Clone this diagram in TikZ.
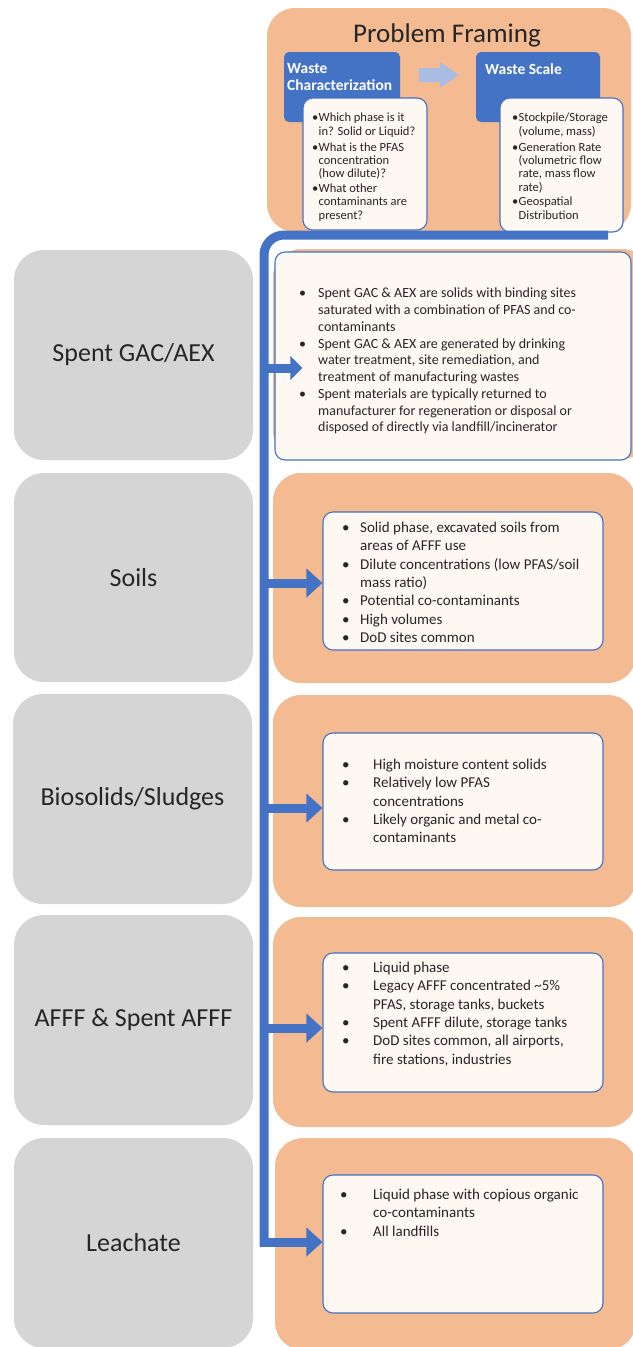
\documentclass[tikz,border=0pt]{standalone}
\usepackage{fontspec}
\setmainfont{Carlito}
\usetikzlibrary{arrows.meta}
\definecolor{peach}{HTML}{F4BA92}
\definecolor{greyb}{HTML}{D5D5D5}
\definecolor{bblue}{HTML}{4472C4}
\definecolor{cream}{HTML}{FDF8F2}
\definecolor{lblue}{HTML}{A9BDE2}
\definecolor{ink}{HTML}{262626}
\newcommand\bul[1]{\makebox[#1][l]{•}}
\newcommand\hin[1]{\hspace*{#1}}
\begin{document}
\begin{tikzpicture}[x=1pt,y=-1pt,
  orangebox/.style={fill=peach, rounded corners=28pt, draw=none, inner sep=0},
  greybox/.style={fill=greyb, rounded corners=30pt, inner sep=0, font=\fontsize{26}{31}\selectfont, text=ink},
  creambox/.style={fill=cream, draw=bblue, line width=1.1pt, rounded corners=10pt, inner sep=0},
  titlebox/.style={fill=bblue, rounded corners=5pt, inner sep=0},
  bodytext/.style={inner sep=0, anchor=north west, align=left, text=ink},
  bigtext/.style={bodytext, font=\fontsize{15}{18.3}\selectfont},
  smalltext/.style={bodytext, font=\fontsize{12.5}{13.4}\selectfont},
  conn/.style={draw=bblue, line width=9pt},
  arr/.style={conn, -{Triangle[width=28pt,length=16pt]}}
]
\useasboundingbox (0,0) rectangle (632,1347);
\fill[white] (0,0) rectangle (632,1347);

% ---------- Problem framing ----------
\node[orangebox, minimum width=364pt, minimum height=224pt] (pf) at (449,120) {};
\node[inner sep=0, anchor=base, font=\fontsize{27}{32}\selectfont, text=ink] (pft) at (447,42) {Problem Framing};
\node[titlebox, minimum width=116pt, minimum height=70pt] (wc) at (342,87) {};
\node[titlebox, minimum width=124pt, minimum height=70pt] (ws) at (538,87) {};
\node[bodytext, text=white, font=\bfseries\fontsize{15.5}{17}\selectfont] (wct) at (287,63) {Waste\\Characterization};
\node[bodytext, text=white, font=\bfseries\fontsize{15.5}{17}\selectfont] (wst) at (485,63) {Waste Scale};
\fill[lblue] (419,68) -- (440,68) -- (440,62) -- (459,75) -- (440,88) -- (440,82) -- (419,82) -- cycle;
\node[creambox, minimum width=124pt, minimum height=132pt] (wcw) at (365,164) {};
\node[creambox, minimum width=123pt, minimum height=134pt] (wsw) at (561.5,165) {};
\node[smalltext] (wcx) at (312,113) {\bul{6.5pt}Which phase is it\\\hin{6.5pt}in? Solid or Liquid?\\[2.5pt]
\bul{6.5pt}What is the PFAS\\\hin{6.5pt}concentration\\\hin{6.5pt}(how dilute)?\\[1pt]
\bul{6.5pt}What other\\\hin{6.5pt}contaminants are\\\hin{6.5pt}present?};
\node[smalltext] (wsx) at (512,113) {\bul{6.5pt}Stockpile/Storage\\\hin{6.5pt}(volume, mass)\\[2.5pt]
\bul{6.5pt}Generation Rate\\\hin{6.5pt}(volumetric flow\\\hin{6.5pt}rate, mass flow\\\hin{6.5pt}rate)\\[1pt]
\bul{6.5pt}Geospatial\\\hin{6.5pt}Distribution};

% ---------- right column ----------
\node[orangebox, minimum width=377pt, minimum height=210pt] (o1) at (461.5,354) {};
\node[creambox, minimum width=356pt, minimum height=208pt] (w1) at (453,356) {};
\node[orangebox, minimum width=363pt, minimum height=210pt] (o2) at (454.5,578) {};
\node[creambox, minimum width=280pt, minimum height=138pt] (w2) at (463,581) {};
\node[orangebox, minimum width=363pt, minimum height=212pt] (o3) at (454.5,801) {};
\node[creambox, minimum width=280pt, minimum height=137pt] (w3) at (463,801.5) {};
\node[orangebox, minimum width=363pt, minimum height=210pt] (o4) at (454.5,1022) {};
\node[creambox, minimum width=280pt, minimum height=139pt] (w4) at (463,1022.5) {};
\node[orangebox, minimum width=361pt, minimum height=212pt] (o5) at (455.5,1244) {};
\node[creambox, minimum width=280pt, minimum height=138pt] (w5) at (463,1244) {};

\node[bodytext, font=\fontsize{14}{16.75}\selectfont] (x1) at (299,288) {%
\bul{19pt}Spent GAC \& AEX are solids with binding sites\\\hin{19pt}saturated with a combination of PFAS and co-\\\hin{19pt}contaminants\\
\bul{19pt}Spent GAC \& AEX are generated by drinking\\\hin{19pt}water treatment, site remediation, and\\\hin{19pt}treatment of manufacturing wastes\\
\bul{19pt}Spent materials are typically returned to\\\hin{19pt}manufacturer for regeneration or disposal or\\\hin{19pt}disposed of directly via landfill/incinerator};
\node[bigtext] (x2) at (342,522) {%
\bul{18pt}Solid phase, excavated soils from\\\hin{18pt}areas of AFFF use\\
\bul{18pt}Dilute concentrations (low PFAS/soil\\\hin{18pt}mass ratio)\\
\bul{18pt}Potential co-contaminants\\
\bul{18pt}High volumes\\
\bul{18pt}DoD sites common};
\node[bigtext] (x3) at (342,759) {%
\bul{31pt}High moisture content solids\\
\bul{31pt}Relatively low PFAS\\\hin{31pt}concentrations\\
\bul{31pt}Likely organic and metal co-\\\hin{31pt}contaminants};
\node[bigtext] (x4) at (342,962) {%
\bul{31pt}Liquid phase\\
\bul{31pt}Legacy AFFF concentrated \textasciitilde 5\%\\\hin{31pt}PFAS, storage tanks, buckets\\
\bul{31pt}Spent AFFF dilute, storage tanks\\
\bul{31pt}DoD sites common, all airports,\\\hin{31pt}fire stations, industries};
\node[bigtext] (x5) at (340,1189) {%
\bul{33pt}Liquid phase with copious organic\\\hin{33pt}co-contaminants\\
\bul{33pt}All landfills};

% ---------- left column ----------
\node[greybox, minimum width=239pt, minimum height=210pt] (g1) at (133.5,355) {Spent GAC/AEX};
\node[greybox, minimum width=239pt, minimum height=209pt] (g2) at (133.5,577.5) {Soils};
\node[greybox, minimum width=239pt, minimum height=210pt] (g3) at (132.5,799) {Biosolids/Sludges};
\node[greybox, minimum width=239pt, minimum height=210pt] (g4) at (133.5,1020) {AFFF \& Spent AFFF};
\node[greybox, minimum width=239pt, minimum height=210pt] (g5) at (133.5,1243) {Leachate};

% ---------- connector ----------
\coordinate (cs) at (608,235);
\coordinate (cc) at (264,235);
\coordinate (ce) at (264,1246.5);
\coordinate (cb) at (259.5,1242);
\coordinate (t1) at (264,368);
\coordinate (t2) at (264,583);
\coordinate (t3) at (264,808);
\coordinate (t4) at (264,1028);
\draw[conn, rounded corners=20pt] (cs) -- (cc) -- (ce);
\draw[conn, -{Triangle[width=23pt,length=12pt]}] (t1) -- ([xshift=28pt]t1 -| w1.west);
\draw[arr] (t2) -- (t2 -| w2.west);
\draw[arr] (t3) -- (t3 -| w3.west);
\draw[arr] (t4) -- (t4 -| w4.west);
\draw[arr] (cb) -- (cb -| w5.west);
\end{tikzpicture}
\end{document}
